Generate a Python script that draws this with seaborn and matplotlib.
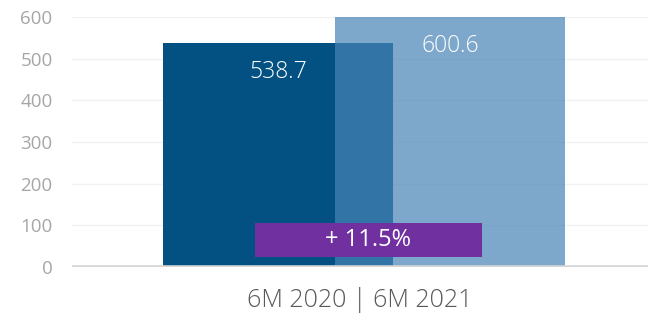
import matplotlib
matplotlib.use("Agg")
import matplotlib.pyplot as plt
import seaborn as sns
import pandas as pd
from matplotlib.patches import Rectangle

periods = ["6M 2020", "6M 2021"]
values = [538.7, 600.6]
value_labels = ["538.7", "600.6"]
change_label = "+ 11.5%"
yticks = [0, 100, 200, 300, 400, 500, 600]

sns.set_theme(style="white")
plt.rcParams['font.family'] = ['Open Sans', 'DejaVu Sans']

W, H = 648, 315
fig = plt.figure(figsize=(W / 100, H / 100), dpi=100)
ax = fig.add_axes([72 / W, (315 - 267) / H, 576 / W, 250 / H])

# bar layout (axis x spans 0..1)
centers = [0.3576, 0.6563]
bar_w = 0.3993
colors = ["#035183", "#4884B6"]
alphas = [1.0, 0.7]

for i in range(2):
    df = pd.DataFrame({"x": [centers[i]], "y": [values[i]]})
    sns.barplot(data=df, x="x", y="y", native_scale=True, width=bar_w,
                color=colors[i], alpha=alphas[i], saturation=1,
                linewidth=0, ax=ax, zorder=2 + i)

ax.set_xlim(0, 1)
ax.set_ylim(0, 600)

# value labels
for i in range(2):
    ax.text(centers[i], values[i] - 70, value_labels[i], ha="center", va="center",
            color="white", fontsize=16.5, fontweight="light", zorder=5)

# change box
ax.add_patch(Rectangle((0.318, 24), 0.394, 81.6, facecolor="#7030A0",
                       edgecolor="none", zorder=6))
ax.text(0.514, 64.8, change_label, ha="center", va="center", color="white",
        fontsize=17, fontweight="normal", zorder=7)

# grid and axes
ax.set_yticks(yticks)
ax.set_yticklabels([str(t) for t in yticks])
for t in yticks[1:]:
    ax.axhline(t, color="#F2F2F2", lw=1, zorder=0)
ax.axhline(0, color="#D6D6D6", lw=2.6, zorder=8)
for s in ax.spines.values():
    s.set_visible(False)
ax.tick_params(axis="y", length=0, pad=14, labelsize=13.5, labelcolor="#A6A6A6")
ax.tick_params(axis="x", length=0, pad=14.5, labelsize=18, labelcolor="#595959")
ax.set_xticks([0.5])
ax.set_xticklabels([" | ".join(periods)], fontweight="light")
ax.set_xlabel("")
ax.set_ylabel("")
ax.grid(False)

fig.savefig("out.png", dpi=100, facecolor="white")
